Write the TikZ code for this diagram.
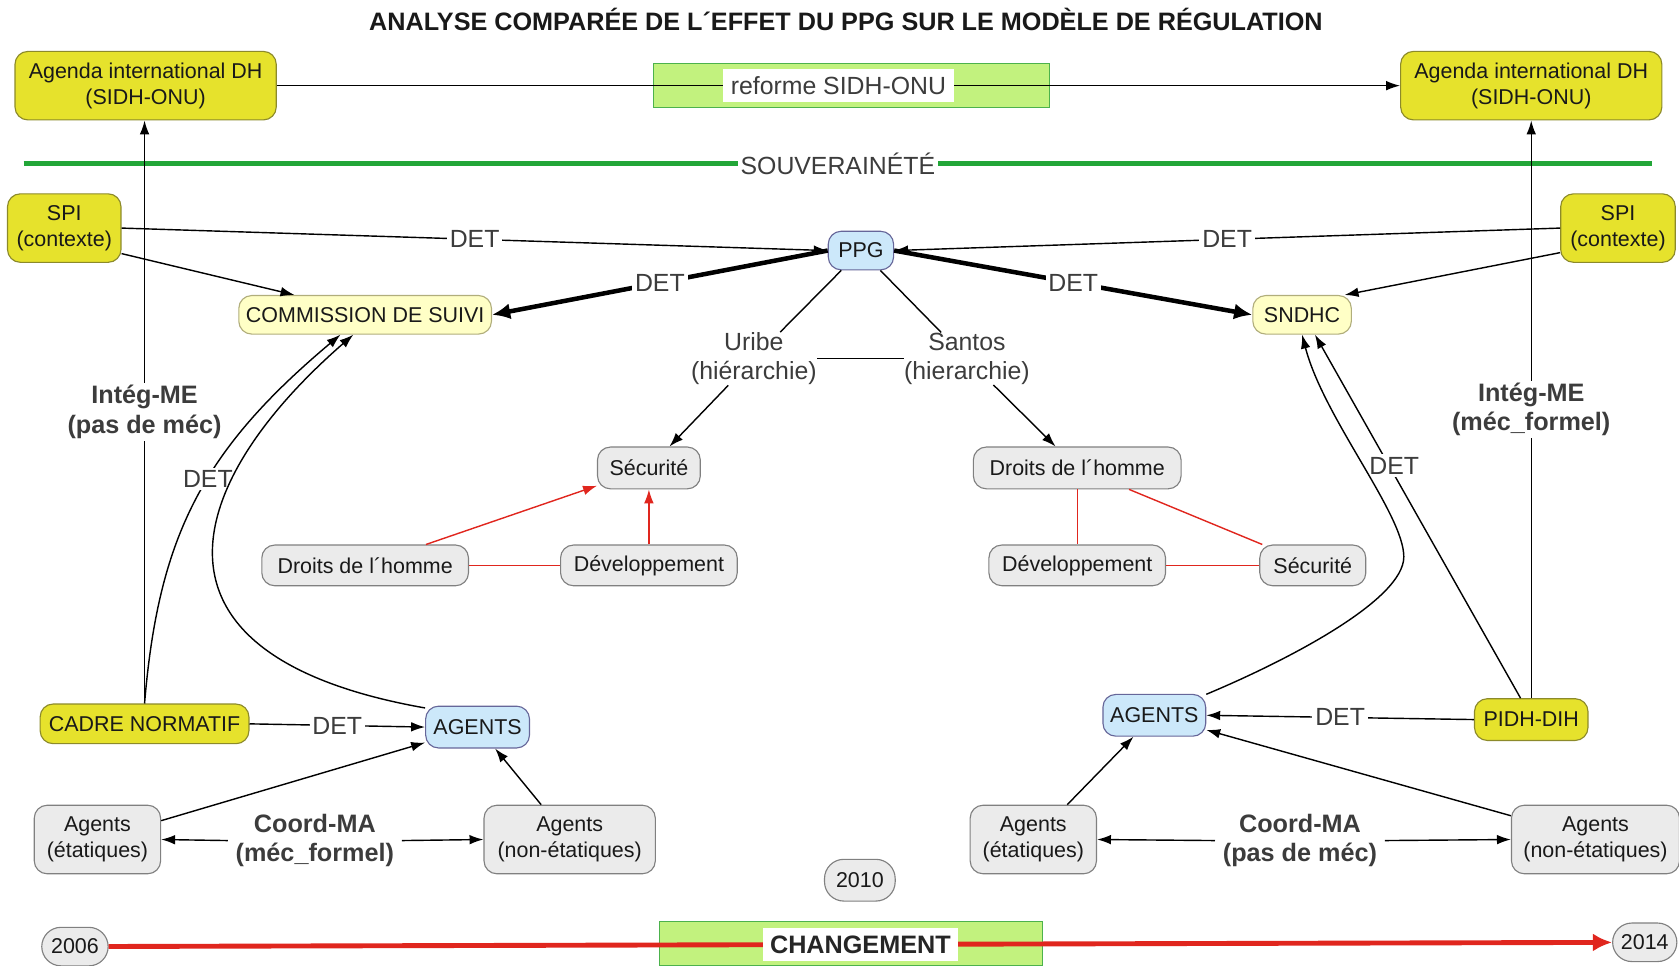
\documentclass[tikz,border=0pt]{standalone}
\usepackage{fontspec}
\setmainfont{Liberation Sans}
\usetikzlibrary{arrows.meta}

\definecolor{dhyellow}{HTML}{E6E22C}
\definecolor{dhyellowdk}{HTML}{8C8A2A}
\definecolor{paleyellow}{HTML}{FFFFC6}
\definecolor{paleblue}{HTML}{CCE8FA}
\definecolor{boxgray}{HTML}{EBEBEB}
\definecolor{barfill}{HTML}{C2F27E}
\definecolor{linegreen}{HTML}{22A638}
\definecolor{linered}{HTML}{E0261E}
\definecolor{labelgray}{HTML}{3C3C3C}

\newcommand{\nodefont}{\fontsize{11.4}{13.6}\selectfont}
\newcommand{\lblfont}{\fontsize{13.2}{15.6}\selectfont}
\newcommand{\boldfont}{\fontsize{13.4}{15.8}\selectfont\bfseries}

\begin{document}
\begin{tikzpicture}[x=0.02cm,y=-0.02cm,
    every node/.style={inner sep=0pt,align=center,font=\nodefont,text=black!90},
    mapbox/.style={draw=#1,rounded corners=0.24cm,line width=0.6pt},
    ybox/.style={mapbox=dhyellowdk,fill=dhyellow},
    pybox/.style={mapbox=gray!70!yellow,fill=paleyellow},
    bbox/.style={mapbox=gray!80!blue,fill=paleblue},
    gbox/.style={mapbox=gray,fill=boxgray},
    yearbox/.style={gbox,rounded corners=0.36cm},
    bar/.style={draw=green!40!gray,fill=barfill,line width=0.6pt},
    lnk/.style={line width=0.75pt},
    arr/.style={lnk,-{Latex[length=0.26cm,width=0.18cm]}},
    fat/.style={line width=2.4pt,-{Latex[length=0.34cm,width=0.3cm]}},
    redlnk/.style={linered,line width=0.75pt},
    det/.style={fill=white,inner sep=1.5pt,font=\lblfont,text=labelgray},
    blbl/.style={fill=white,inner ysep=1pt,inner xsep=4pt,font=\boldfont,text=labelgray}]

    \useasboundingbox (0,0) rectangle (1568,902);

    %title
    \node[font=\fontsize{13.4}{16}\selectfont\bfseries] (title) at (790,18)
        {ANALYSE COMPARÉE DE L´EFFET DU PPG SUR LE MODÈLE DE RÉGULATION};

    %international level
    \node[bar,minimum width=7.4cm,minimum height=0.82cm] (reforme) at (795,80) {};
    \node[ybox,minimum width=4.88cm,minimum height=1.28cm] (agL) at (136,80) {Agenda international DH\\(SIDH-ONU)};
    \node[ybox,minimum width=4.88cm,minimum height=1.28cm] (agR) at (1430,80) {Agenda international DH\\(SIDH-ONU)};
    \draw[arr] (agL) -- node[det,inner sep=4pt]{reforme SIDH-ONU} (agR);

    %sovereignty line
    \coordinate (souvW) at (22,153);
    \coordinate (souvE) at (1543,153);
    \draw[linegreen,line width=2.8pt] (souvW) -- node[det]{SOUVERAINÉTÉ} (souvE);

    %context and PPG
    \node[ybox,minimum width=2.12cm,minimum height=1.28cm] (spiL) at (60,213) {SPI\\(contexte)};
    \node[ybox,minimum width=2.14cm,minimum height=1.28cm] (spiR) at (1511,213) {SPI\\(contexte)};
    \node[bbox,minimum width=1.22cm,minimum height=0.72cm] (ppg) at (804,234) {PPG};
    \node[pybox,minimum width=4.72cm,minimum height=0.72cm] (comL) at (341,294) {COMMISSION DE SUIVI};
    \node[pybox,minimum width=1.84cm,minimum height=0.72cm] (sndhc) at (1216,294) {SNDHC};

    \draw[arr] (spiL.east) -- node[det]{DET} (ppg.west);
    \draw[arr] (spiL.-24) -- ([xshift=-1.32cm]comL.north);
    \draw[fat] (ppg.west) -- node[det]{DET} (comL.east);
    \draw[arr] (spiR.west) -- node[det]{DET} (ppg.east);
    \draw[arr] (spiR.203) -- (sndhc.25);
    \draw[fat] (ppg.east) -- node[det]{DET} (sndhc.west);

    %hierarchies
    \node[font=\lblfont,text=labelgray] (uribe) at (704,335) {Uribe\\(hiérarchie)};
    \node[font=\lblfont,text=labelgray] (santos) at (903,335) {Santos\\(hierarchie)};
    \draw[lnk] (ppg) -- (uribe);
    \draw[lnk] (ppg) -- (santos);
    \draw[lnk] (uribe) -- (santos);

    \node[gbox,minimum width=1.92cm,minimum height=0.78cm] (secL) at (606,437) {Sécurité};
    \node[gbox,minimum width=3.86cm,minimum height=0.76cm] (droitsL) at (341,528) {Droits de l´homme};
    \node[gbox,minimum width=3.3cm,minimum height=0.76cm] (devL) at (606,528) {Développement};
    \draw[arr] (uribe) -- (secL);
    \draw[redlnk,-{Latex[length=0.26cm,width=0.18cm]}] (droitsL) -- (secL);
    \draw[redlnk,-{Latex[length=0.26cm,width=0.18cm]}] (devL) -- (secL);
    \draw[redlnk] (droitsL) -- (devL);

    \node[gbox,minimum width=3.88cm,minimum height=0.78cm] (droitsR) at (1006,437) {Droits de l´homme};
    \node[gbox,minimum width=3.3cm,minimum height=0.76cm] (devR) at (1006,528) {Développement};
    \node[gbox,minimum width=1.98cm,minimum height=0.76cm] (secR) at (1226,528) {Sécurité};
    \draw[arr] (santos) -- (droitsR);
    \draw[redlnk] (droitsR) -- (devR);
    \draw[redlnk] (droitsR) -- (secR);
    \draw[redlnk] (devR) -- (secR);

    %left model (2006)
    \node[ybox,minimum width=3.9cm,minimum height=0.74cm] (cadre) at (135,676) {CADRE NORMATIF};
    \node[bbox,minimum width=1.94cm,minimum height=0.78cm] (agentsL) at (446,679) {AGENTS};
    \node[gbox,minimum width=2.36cm,minimum height=1.28cm] (etatL) at (91,784) {Agents\\(étatiques)};
    \node[gbox,minimum width=3.2cm,minimum height=1.28cm] (nonetatL) at (532,784) {Agents\\(non-étatiques)};
    \node[blbl] (coordL) at (294,785) {Coord-MA\\(méc\_formel)};

    \draw[arr] (cadre.north) -- node[blbl]{Intég-ME\\(pas de méc)} (cadre.north |- agL.south);
    \draw[arr] (cadre.north) .. controls (148,500) and (190,420) .. node[det,pos=0.56]{DET} ([xshift=-0.46cm]comL.south);
    \draw[arr] (agentsL.160) .. controls (118,612) and (172,450) .. ([xshift=-0.22cm]comL.south);
    \draw[arr] (cadre.east) -- node[det]{DET} (agentsL.west);
    \draw[arr] (etatL) -- (agentsL);
    \draw[arr] (nonetatL) -- (agentsL);
    \draw[arr] (coordL.west) -- (etatL.east);
    \draw[arr] (coordL.east) -- (nonetatL.west);

    %right model (2014)
    \node[bbox,minimum width=1.92cm,minimum height=0.78cm] (agentsR) at (1078,668) {AGENTS};
    \node[ybox,minimum width=2.12cm,minimum height=0.78cm] (pidh) at (1430,672) {PIDH-DIH};
    \node[gbox,minimum width=2.36cm,minimum height=1.28cm] (etatR) at (965,784) {Agents\\(étatiques)};
    \node[gbox,minimum width=3.14cm,minimum height=1.28cm] (nonetatR) at (1490,784) {Agents\\(non-étatiques)};
    \node[blbl] (coordR) at (1214,785) {Coord-MA\\(pas de méc)};

    \draw[arr] (pidh.north) -- node[blbl]{Intég-ME\\(méc\_formel)} (pidh.north |- agR.south);
    \draw[arr] ([xshift=-0.2cm]pidh.north) -- node[det,pos=0.64,xshift=0.1cm]{DET} ([xshift=0.24cm]sndhc.south);
    \draw[arr] (agentsR.22) .. controls (1204,616) and (1311,560) .. (1311,520)
        .. controls (1311,480) and (1236,390) .. (sndhc.south);
    \draw[arr] (pidh.west) -- node[det]{DET} (agentsR.east);
    \draw[arr] (etatR) -- (agentsR);
    \draw[arr] (nonetatR) -- (agentsR);
    \draw[arr] (coordR.west) -- (etatR.east);
    \draw[arr] (coordR.east) -- (nonetatR.west);

    %time line
    \node[bar,minimum width=7.16cm,minimum height=0.82cm] (change) at (795,881) {};
    \node[yearbox,minimum width=1.32cm,minimum height=0.78cm] (y2010) at (803,822) {2010};
    \node[yearbox,minimum width=1.24cm,minimum height=0.72cm] (y2006) at (70,884) {2006};
    \node[yearbox,minimum width=1.2cm,minimum height=0.72cm] (y2014) at (1536,880) {2014};
    \draw[linered,line width=2.6pt,-{Latex[length=0.36cm,width=0.34cm]}] (y2006) --
        node[det,inner sep=4pt,font=\boldfont,text=black!85]{CHANGEMENT} (y2014);

\end{tikzpicture}
\end{document}
